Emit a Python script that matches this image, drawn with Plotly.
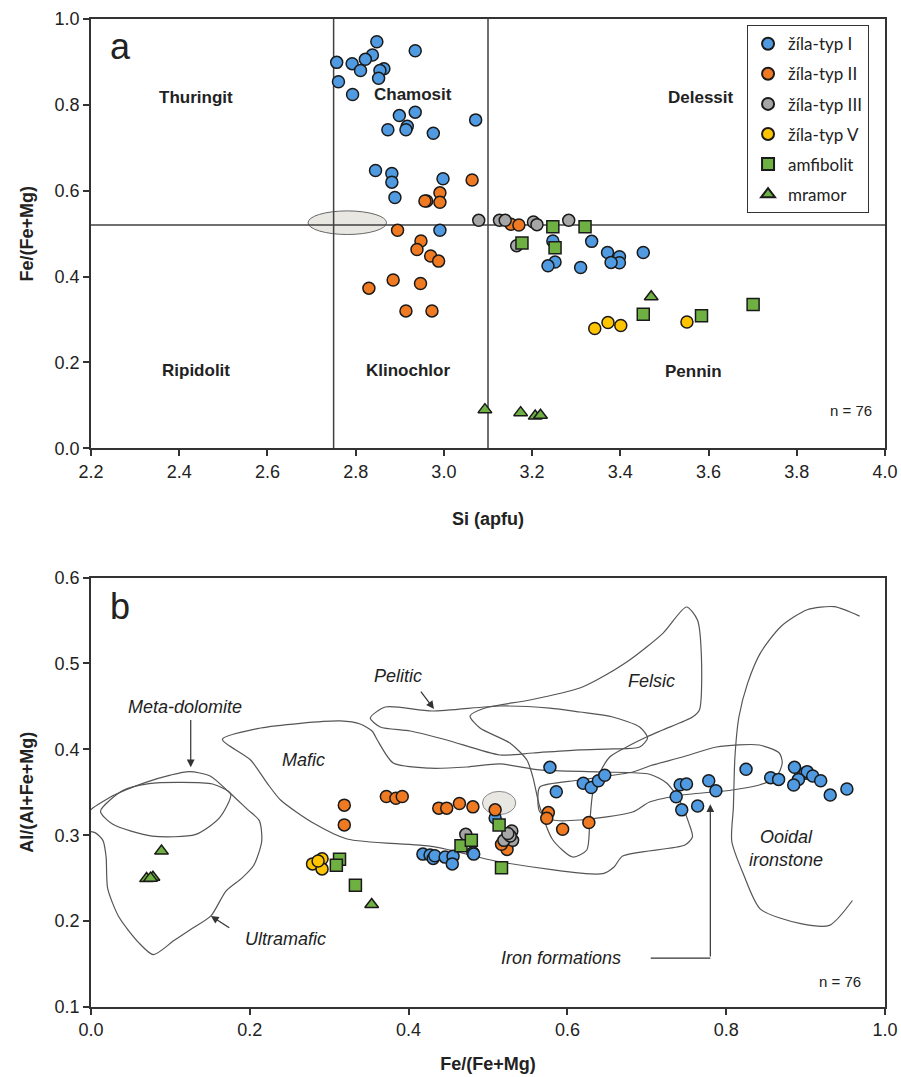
import plotly.graph_objects as go

# ---------------- Panel a data: Si (apfu) vs Fe/(Fe+Mg) ----------------
a_typ1_si = [2.848, 2.935, 2.838, 2.822, 2.757, 2.792, 2.811, 2.864, 2.855, 2.852, 2.761, 2.793,
             2.935, 2.899, 2.917, 2.914, 2.873, 2.976, 3.072, 2.845, 2.882, 2.882, 2.998, 2.889,
             2.991, 3.247, 3.335, 3.371, 3.398, 3.398, 3.379, 3.452, 3.252, 3.236, 3.310]
a_typ1_fe = [0.947, 0.926, 0.916, 0.906, 0.899, 0.896, 0.880, 0.884, 0.880, 0.862, 0.854, 0.824,
             0.783, 0.775, 0.750, 0.742, 0.742, 0.734, 0.765, 0.647, 0.640, 0.620, 0.628, 0.584,
             0.508, 0.483, 0.482, 0.456, 0.446, 0.432, 0.433, 0.456, 0.434, 0.425, 0.421]
a_typ2_si = [3.064, 2.991, 2.991, 2.961, 2.957, 2.895, 2.948, 2.939, 2.970, 2.988, 2.885, 2.947,
             2.830, 2.914, 2.973, 3.152, 3.170]
a_typ2_fe = [0.625, 0.595, 0.573, 0.576, 0.576, 0.508, 0.483, 0.463, 0.448, 0.436, 0.392, 0.384,
             0.373, 0.320, 0.320, 0.522, 0.520]
a_typ3_si = [3.079, 3.126, 3.139, 3.203, 3.211, 3.283, 3.165]
a_typ3_fe = [0.531, 0.531, 0.531, 0.527, 0.521, 0.531, 0.472]
a_typ5_si = [3.342, 3.372, 3.401, 3.551]
a_typ5_fe = [0.279, 0.293, 0.286, 0.294]
a_amf_si = [3.247, 3.320, 3.177, 3.252, 3.452, 3.584, 3.701]
a_amf_fe = [0.516, 0.516, 0.478, 0.467, 0.312, 0.309, 0.335]
a_mram_si = [3.470, 3.093, 3.174, 3.207, 3.219]
a_mram_fe = [0.353, 0.090, 0.083, 0.075, 0.077]

# ---------------- Panel b data: Fe/(Fe+Mg) vs Al/(Al+Fe+Mg) ----------------
b_typ1_fe = [0.418, 0.427, 0.431, 0.433, 0.446, 0.456, 0.455, 0.481, 0.482, 0.509, 0.578, 0.586,
             0.620, 0.630, 0.639, 0.647, 0.742, 0.750, 0.737, 0.744, 0.764, 0.778, 0.787, 0.825,
             0.856, 0.866, 0.886, 0.899, 0.902, 0.909, 0.919, 0.891, 0.885, 0.931, 0.952]
b_typ1_al = [0.278, 0.277, 0.273, 0.276, 0.2745, 0.2756, 0.2666, 0.2795, 0.278, 0.320, 0.379, 0.3506,
             0.3604, 0.3556, 0.3635, 0.3697, 0.3588, 0.3596, 0.3447, 0.3295, 0.334, 0.3635, 0.3518, 0.3767,
             0.367, 0.365, 0.379, 0.372, 0.374, 0.369, 0.3635, 0.365, 0.3584, 0.3467, 0.3537]
b_typ2_fe = [0.319, 0.319, 0.372, 0.384, 0.392, 0.438, 0.448, 0.464, 0.481, 0.509, 0.576, 0.574,
             0.594, 0.627, 0.524, 0.517]
b_typ2_al = [0.335, 0.312, 0.345, 0.343, 0.345, 0.3315, 0.3315, 0.337, 0.333, 0.3295, 0.3263, 0.3198,
             0.307, 0.3147, 0.2835, 0.2894]
b_typ3_fe = [0.472, 0.530, 0.531, 0.520, 0.528, 0.525]
b_typ3_al = [0.301, 0.305, 0.294, 0.294, 0.299, 0.302]
b_typ5_fe = [0.279, 0.291, 0.291, 0.286]
b_typ5_al = [0.2666, 0.2725, 0.2608, 0.270]
b_amf_fe = [0.313, 0.309, 0.333, 0.466, 0.479, 0.514, 0.517]
b_amf_al = [0.272, 0.265, 0.2417, 0.2877, 0.294, 0.312, 0.262]
b_mram_fe = [0.0888, 0.070, 0.078, 0.075, 0.3535]
b_mram_al = [0.2815, 0.2495, 0.251, 0.250, 0.2194]

# ---------------- Field outlines (panel b, data units) ----------------
ultramafic_x = [-0.01, 0.0, 0.03, 0.069, 0.10, 0.124, 0.15, 0.174, 0.197, 0.212, 0.215, 0.205, 0.19,
                0.170, 0.151, 0.125, 0.104, 0.0785, 0.06, 0.035, 0.021, 0.019, 0.015, 0.005, -0.01]
ultramafic_y = [0.320, 0.330, 0.347, 0.3615, 0.370, 0.374, 0.369, 0.350, 0.330, 0.317, 0.293, 0.265, 0.250,
                0.235, 0.206, 0.19, 0.177, 0.161, 0.175, 0.205, 0.238, 0.275, 0.294, 0.303, 0.305]
metadol_x = [0.012, 0.040, 0.073, 0.111, 0.153, 0.176, 0.162, 0.132, 0.077, 0.027, 0.012]
metadol_y = [0.328, 0.352, 0.360, 0.3615, 0.3596, 0.348, 0.3205, 0.301, 0.299, 0.313, 0.328]
mafic_x = [0.1655, 0.2136, 0.2638, 0.314, 0.339, 0.354, 0.3606, 0.3807, 0.427, 0.4736, 0.515, 0.565,
           0.641, 0.7035, 0.7249, 0.741, 0.753, 0.7575, 0.748, 0.6696, 0.6587, 0.6445, 0.5158, 0.4313,
           0.3225, 0.2805, 0.2387, 0.222, 0.201, 0.1655]
mafic_y = [0.4116, 0.4248, 0.4303, 0.433, 0.4295, 0.4213, 0.4108, 0.384, 0.378, 0.3794, 0.383, 0.376,
           0.3736, 0.371, 0.3608, 0.341, 0.314, 0.298, 0.2886, 0.2758, 0.263, 0.2552, 0.2688, 0.2866,
           0.2956, 0.3139, 0.341, 0.3604, 0.3875, 0.4116]
pelitic_x = [0.3518, 0.3706, 0.4296, 0.515, 0.5779, 0.6156, 0.6571, 0.691, 0.701, 0.691, 0.6571, 0.6156,
             0.5565, 0.515, 0.4481, 0.402, 0.3643, 0.3518]
pelitic_y = [0.4364, 0.4492, 0.4446, 0.4504, 0.448, 0.4434, 0.4376, 0.426, 0.4132, 0.4027, 0.4004, 0.3993,
             0.3957, 0.3934, 0.4108, 0.4213, 0.426, 0.4364]
felsic_x = [0.75, 0.7202, 0.6784, 0.6369, 0.6156, 0.5528, 0.4962, 0.4774, 0.4899, 0.5276, 0.549, 0.5565,
            0.5653, 0.5817, 0.6068, 0.6244, 0.6281, 0.6319, 0.6407, 0.6533, 0.6746, 0.6997, 0.7199, 0.7575,
            0.7663, 0.7688, 0.7638, 0.75]
felsic_y = [0.5657, 0.535, 0.504, 0.4807, 0.4714, 0.4574, 0.4481, 0.4388, 0.4248, 0.4073, 0.3875, 0.3677,
            0.3328, 0.2944, 0.2746, 0.2828, 0.3142, 0.3491, 0.3724, 0.391, 0.4027, 0.4143, 0.4225, 0.4376,
            0.4458, 0.5074, 0.5505, 0.5657]
ironf_x = [0.5628, 0.5653, 0.6156, 0.6822, 0.7035, 0.745, 0.7877, 0.8417, 0.8668, 0.8706, 0.8631, 0.8417,
           0.8078, 0.745, 0.7035, 0.6822, 0.6156, 0.5817, 0.5653, 0.5628]
ironf_y = [0.341, 0.3561, 0.3643, 0.3736, 0.3806, 0.391, 0.4027, 0.405, 0.3957, 0.384, 0.3677, 0.3584,
           0.3526, 0.3468, 0.3386, 0.327, 0.3177, 0.3177, 0.327, 0.341]
ooidal_x = [0.968, 0.936, 0.902, 0.869, 0.843, 0.827, 0.816, 0.811, 0.809, 0.807, 0.822, 0.843, 0.894, 0.930, 0.959]
ooidal_y = [0.555, 0.566, 0.5625, 0.543, 0.512, 0.477, 0.4376, 0.391, 0.332, 0.293, 0.254, 0.214, 0.197, 0.195, 0.224]

si_bounds = [2.75, 3.1]
fe_bound = 0.52

BLUE = "#4f9ae0"
ORANGE = "#f07a22"
GRAY = "#a6a6a6"
YELLOW = "#ffc400"
GREEN = "#6fb043"
LINE = "#404040"
FONT = "Liberation Sans, Arial, sans-serif"

fig = go.Figure()

series = [
    ("žíla-typ I", "circle", BLUE, a_typ1_si, a_typ1_fe, b_typ1_fe, b_typ1_al),
    ("žíla-typ II", "circle", ORANGE, a_typ2_si, a_typ2_fe, b_typ2_fe, b_typ2_al),
    ("žíla-typ III", "circle", GRAY, a_typ3_si, a_typ3_fe, b_typ3_fe, b_typ3_al),
    ("žíla-typ V", "circle", YELLOW, a_typ5_si, a_typ5_fe, b_typ5_fe, b_typ5_al),
    ("amfibolit", "square", GREEN, a_amf_si, a_amf_fe, b_amf_fe, b_amf_al),
    ("mramor", "triangle-up", GREEN, a_mram_si, a_mram_fe, b_mram_fe, b_mram_al),
]

for ox, oy in [(ultramafic_x, ultramafic_y), (metadol_x, metadol_y), (mafic_x, mafic_y),
               (pelitic_x, pelitic_y), (felsic_x, felsic_y), (ironf_x, ironf_y), (ooidal_x, ooidal_y)]:
    fig.add_trace(go.Scatter(x=ox, y=oy, mode="lines",
                             line=dict(color="#555555", width=1.2, shape="spline", smoothing=0.7),
                             xaxis="x2", yaxis="y2", showlegend=False, hoverinfo="skip"))

for s in si_bounds:
    fig.add_trace(go.Scatter(x=[s, s], y=[0, 1], mode="lines", line=dict(color=LINE, width=1.5),
                             showlegend=False, hoverinfo="skip"))
fig.add_trace(go.Scatter(x=[2.2, 4.0], y=[fe_bound, fe_bound], mode="lines", line=dict(color=LINE, width=1.5),
                         showlegend=False, hoverinfo="skip"))

fig.add_shape(type="circle", xref="x", yref="y", x0=2.692, x1=2.870, y0=0.498, y1=0.553,
              fillcolor="#e9e7e2", line=dict(color="#666666", width=1), layer="below")
fig.add_shape(type="circle", xref="x2", yref="y2", x0=0.493, x1=0.535, y0=0.324, y1=0.351,
              fillcolor="#e9e7e2", line=dict(color="#888888", width=1), layer="below")

for name, sym, col, ax_, ay_, bx_, by_ in series:
    mk = dict(symbol=sym, size=12, color=col, line=dict(color="#1a1a1a", width=1.5))
    fig.add_trace(go.Scatter(x=ax_, y=ay_, mode="markers", name=name, legendgroup=name,
                             marker=mk, showlegend=True))
    fig.add_trace(go.Scatter(x=bx_, y=by_, mode="markers", name=name, legendgroup=name,
                             xaxis="x2", yaxis="y2", marker=mk, showlegend=False))

axis_common = dict(showline=True, linecolor="#333333", linewidth=1.5, mirror=True, ticks="outside",
                   ticklen=6, tickwidth=1.5, tickcolor="#333333", showgrid=False, zeroline=False,
                   automargin=False, tickfont=dict(family=FONT, size=18, color="#222222"))

fig.update_layout(
    width=901, height=1077,
    margin=dict(l=91, r=16, t=19, b=70),
    paper_bgcolor="white", plot_bgcolor="white",
    font=dict(family=FONT, color="#222222"),
    xaxis=dict(range=[2.2, 4.0], dtick=0.2, tickformat=".1f", domain=[0, 1], anchor="y",
               title=dict(text="<b>Si (apfu)</b>", font=dict(size=18), standoff=32), **axis_common),
    yaxis=dict(range=[0, 1.0], dtick=0.2, tickformat=".1f", domain=[0.5655, 1.0], anchor="x",
               title=dict(text="<b>Fe/(Fe+Mg)</b>", font=dict(size=18), standoff=16), **axis_common),
    xaxis2=dict(range=[0, 1.0], dtick=0.2, tickformat=".1f", domain=[0, 1], anchor="y2",
                title=dict(text="<b>Fe/(Fe+Mg)</b>", font=dict(size=18), standoff=18), **axis_common),
    yaxis2=dict(range=[0.1, 0.6], dtick=0.1, tickformat=".1f", domain=[0, 0.4347], anchor="x2",
                title=dict(text="<b>Al/(Al+Fe+Mg)</b>", font=dict(size=18), standoff=16), **axis_common),
    legend=dict(x=0.826, y=0.994, xanchor="left", yanchor="top", bgcolor="white", bordercolor="#333333",
                borderwidth=1.2, font=dict(family="Lato, Open Sans, sans-serif", size=17, color="#222222"),
                itemsizing="constant", tracegroupgap=5, itemwidth=30),
    showlegend=True,
)

for txt, x, y in [("Thuringit", 2.439, 0.818), ("Chamosit", 2.929, 0.823), ("Delessit", 3.582, 0.818),
                  ("Ripidolit", 2.439, 0.182), ("Klinochlor", 2.918, 0.182), ("Pennin", 3.565, 0.178)]:
    fig.add_annotation(x=x, y=y, xref="x", yref="y", text="<b>%s</b>" % txt, showarrow=False,
                       font=dict(family=FONT, size=17, color="#222222"))
fig.add_annotation(x=2.238, y=0.937, xref="x", yref="y", text="a", showarrow=False, xanchor="left",
                   font=dict(family=FONT, size=36, color="#222222"))
fig.add_annotation(x=3.975, y=0.087, xref="x", yref="y", text="n = 76", showarrow=False, xanchor="right",
                   font=dict(family=FONT, size=15, color="#222222"))

fig.add_annotation(x=0.022, y=0.566, xref="x2", yref="y2", text="b", showarrow=False, xanchor="left",
                   font=dict(family=FONT, size=36, color="#222222"))
fig.add_annotation(x=0.972, y=0.13, xref="x2", yref="y2", text="n = 76", showarrow=False, xanchor="right",
                   font=dict(family=FONT, size=15, color="#222222"))
ital = dict(family=FONT, size=18, color="#222222")
for txt, x, y in [("Meta-dolomite", 0.119, 0.4496), ("Mafic", 0.268, 0.388), ("Pelitic", 0.387, 0.485),
                  ("Felsic", 0.706, 0.479), ("Ultramafic", 0.245, 0.179), ("Iron formations", 0.592, 0.157)]:
    fig.add_annotation(x=x, y=y, xref="x2", yref="y2", text="<i>%s</i>" % txt, showarrow=False, font=ital)
fig.add_annotation(x=0.875, y=0.284, xref="x2", yref="y2", text="<i>Ooidal<br>ironstone</i>", showarrow=False,
                   font=ital, align="center")

arr = dict(xref="x2", yref="y2", axref="x2", ayref="y2", showarrow=True, arrowhead=2, arrowsize=1.3,
           arrowwidth=1.2, arrowcolor="#333333", text="")
fig.add_annotation(x=0.1256, y=0.379, ax=0.1256, ay=0.436, **arr)
fig.add_annotation(x=0.151, y=0.206, ax=0.176, ay=0.191, **arr)
fig.add_annotation(x=0.432, y=0.447, ax=0.414, ay=0.469, **arr)
fig.add_annotation(x=0.780, y=0.336, ax=0.780, ay=0.157, **arr)
fig.add_trace(go.Scatter(x=[0.705, 0.780], y=[0.157, 0.157], mode="lines", line=dict(color="#333333", width=1.2),
                         xaxis="x2", yaxis="y2", showlegend=False, hoverinfo="skip"))

fig.write_html("out.html")
